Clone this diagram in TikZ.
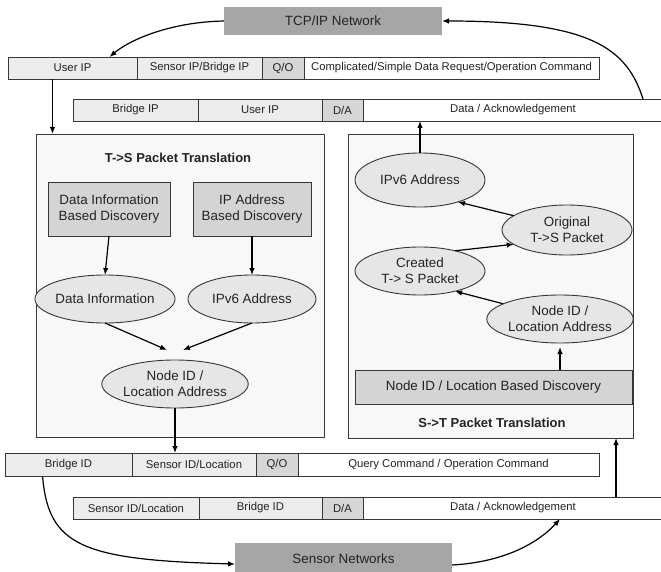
\documentclass[tikz,border=0pt]{standalone}
\usepackage{fontspec}
\setmainfont{Liberation Sans}
\usetikzlibrary{shapes.geometric,arrows.meta}

\definecolor{netfill}{RGB}{166,166,166}
\definecolor{cellfill}{RGB}{236,236,236}
\definecolor{flagfill}{RGB}{214,214,214}
\definecolor{panelfill}{RGB}{248,248,248}
\definecolor{stepfill}{RGB}{212,212,212}
\definecolor{ovalfill}{RGB}{230,230,230}
\definecolor{edge}{RGB}{55,55,55}
\definecolor{ink}{RGB}{35,35,35}

\begin{document}
\begin{tikzpicture}[x=1pt,y=-1pt,
  every node/.style={text=ink, inner sep=0pt, outer sep=0pt},
  small/.style={font=\fontsize{11.3}{13}\selectfont},
  big/.style={font=\fontsize{13.4}{16}\selectfont, align=center},
  cell/.style={small, draw=edge, line width=0.8pt, anchor=west, minimum height=22pt, fill=cellfill},
  flag/.style={cell, fill=flagfill},
  body/.style={cell, fill=white},
  net/.style={big, fill=netfill, draw=none},
  panel/.style={draw=edge, line width=0.9pt, fill=panelfill},
  stepbox/.style={big, draw=edge, line width=0.9pt, fill=stepfill},
  oval/.style={big, ellipse, draw=edge, line width=0.9pt, fill=ovalfill},
  paneltitle/.style={font=\fontsize{13}{15}\bfseries\selectfont},
  arr/.style={line width=1.2pt, draw=black, -{Latex[length=7pt,width=5.5pt]}},
]
\useasboundingbox (0,0) rectangle (661,572);

% networks
\node[net, minimum width=218pt, minimum height=28pt] (tcp) at (333,21) {TCP/IP Network};
\node[net, minimum width=217pt, minimum height=32pt] (sn) at (343.5,559) {Sensor Networks};

% request packet from the user
\node[cell, minimum width=129pt] (u1) at (8,68) {User IP};
\node[cell, minimum width=125pt] (s1) at (137,68) {Sensor IP/Bridge IP};
\node[flag, minimum width=42pt]  (q1) at (262,68) {Q/O};
\node[body, minimum width=295pt] (c1) at (304,68) {Complicated/Simple Data Request/Operation Command};

% reply packet to the user
\node[cell, minimum width=125pt] (b2) at (73,110) {Bridge IP};
\node[cell, minimum width=124pt] (u2) at (198,110) {User IP};
\node[flag, minimum width=41pt]  (d2) at (322,110) {D/A};
\node[body, minimum width=300pt] (a2) at (363,110) {Data / Acknowledgement};

% query packet to the sensors
\node[cell, minimum width=127pt, minimum height=23pt] (b3) at (5,464.5) {Bridge ID};
\node[cell, minimum width=124pt, minimum height=23pt] (s3) at (132,464.5) {Sensor ID/Location};
\node[flag, minimum width=42pt, minimum height=23pt]  (q3) at (256,464.5) {Q/O};
\node[body, minimum width=301pt, minimum height=23pt] (c3) at (298,464.5) {Query Command / Operation Command};

% reply packet from the sensors
\node[cell, minimum width=126pt] (s4) at (73,508) {Sensor ID/Location};
\node[cell, minimum width=123pt] (b4) at (199,508) {Bridge ID};
\node[flag, minimum width=41pt]  (d4) at (322,508) {D/A};
\node[body, minimum width=300pt] (a4) at (363,508) {Data / Acknowledgement};

% T->S translation panel
\node[panel, minimum width=288pt, minimum height=303pt] (tsbox) at (180,285.5) {};
\node[paneltitle] (tstitle) at (178,158) {T->S Packet Translation};
\node[stepbox, minimum width=122pt, minimum height=54pt] (r1) at (109,209) {Data Information\\Based Discovery};
\node[stepbox, minimum width=118pt, minimum height=54pt] (r2) at (252,209) {IP Address\\Based Discovery};
\node[oval, minimum width=128pt, minimum height=48pt] (e1) at (105,299) {Data Information};
\node[oval, minimum width=128pt, minimum height=48pt] (e2) at (252,299) {IPv6 Address};
\node[oval, minimum width=128pt, minimum height=48pt] (e3) at (175,384) {Node ID /\\Location  Address};

\draw[arr] (r1.south) -- (e1.north);
\draw[arr] (r2.south) -- (e2.north);
\draw[arr] (e1.south) -- ([xshift=-8pt,yshift=10pt]e3.north);
\draw[arr] (e2.south) -- ([xshift=8pt,yshift=10pt]e3.north);

% S->T translation panel
\node[panel, minimum width=285pt, minimum height=304pt] (stbox) at (490.5,286) {};
\node[paneltitle] (sttitle) at (492,423) {S->T Packet Translation};
\node[stepbox, minimum width=277pt, minimum height=34pt] (disc) at (493.5,387) {Node ID / Location Based Discovery};
\node[oval, minimum width=130pt, minimum height=54pt] (i6) at (420,180) {IPv6 Address};
\node[oval, minimum width=130pt, minimum height=50pt] (orig) at (567,230) {Original\\T->S Packet};
\node[oval, minimum width=130pt, minimum height=48pt] (cre) at (420,271) {Created\\T-> S Packet};
\node[oval, minimum width=130pt, minimum height=48pt] (nid) at (560,319) {Node ID /\\Location  Address};

\draw[arr] (disc.north -| nid.south) -- ([yshift=-4pt]nid.south);
\draw[arr] (nid.165) -- (cre.-30);
\draw[arr] (cre.30) -- (orig.195);
\draw[arr] (orig.165) -- (i6.-30);

% links between packets, panels and networks
\coordinate (uidrop) at ([xshift=-20pt]u1.south);
\coordinate (ackup) at ([xshift=103pt]a4.north);
\coordinate (bridgeout) at ([xshift=-26pt]b3.south);

\draw[arr] (tcp.west) .. controls +(-54,1) and +(20,-17) .. ([xshift=37pt]u1.north);
\draw[arr] ([xshift=130pt]a2.north) .. controls +(-16,-50) and +(150,0) .. (tcp.east);
\draw[arr] (uidrop) -- (uidrop |- tsbox.north);
\draw[arr] (i6.north) -- (i6.north |- a2.south);
\draw[arr] (e3.south) -- (e3.south |- s3.north);
\draw[arr] (bridgeout) .. controls +(6,69) and +(-155,-4) .. ([yshift=-5pt]sn.west);
\draw[arr] ([yshift=-6pt]sn.east) .. controls +(55,-3) and +(-20,22) .. ([xshift=47pt]a4.south);
\draw[arr] (ackup) -- (ackup |- stbox.south);
\end{tikzpicture}
\end{document}
